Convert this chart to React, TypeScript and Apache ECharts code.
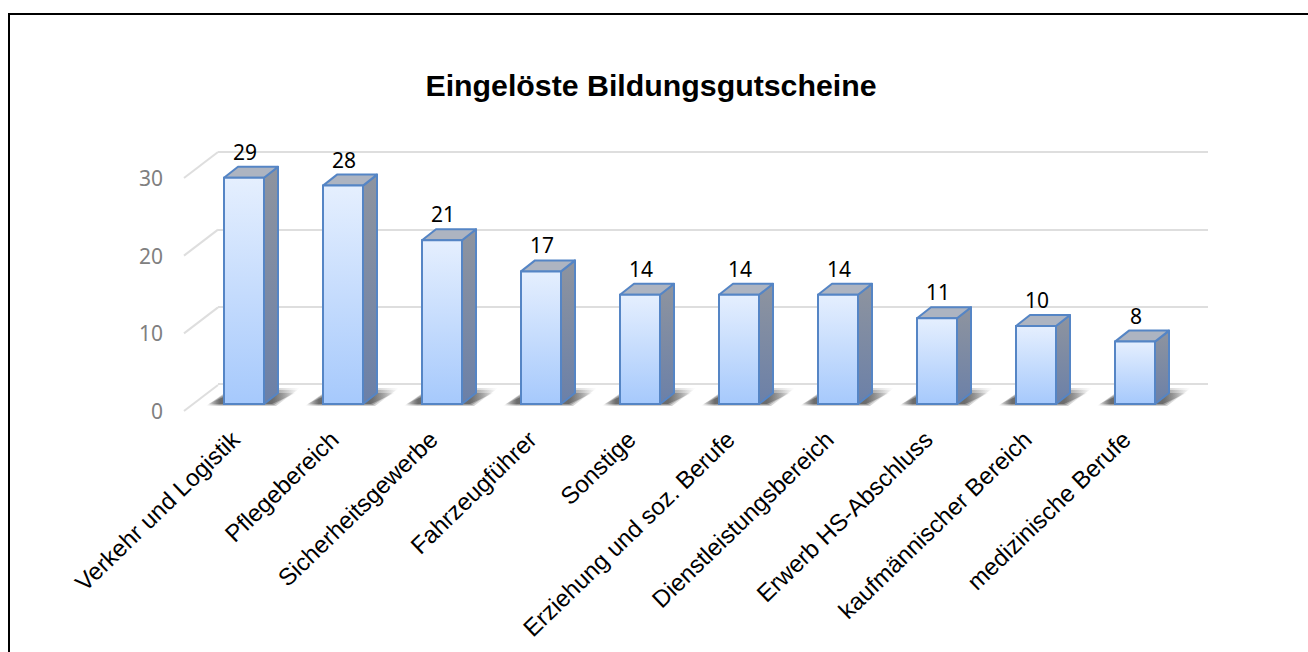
import React, { useEffect, useRef } from "react";
import * as echarts from "echarts";

const title = "Eingelöste Bildungsgutscheine";
const categories = [
  "Verkehr und Logistik",
  "Pflegebereich",
  "Sicherheitsgewerbe",
  "Fahrzeugführer",
  "Sonstige",
  "Erziehung und soz. Berufe",
  "Dienstleistungsbereich",
  "Erwerb HS-Abschluss",
  "kaufmännischer Bereich",
  "medizinische Berufe",
];
const values = [29, 28, 21, 17, 14, 14, 14, 11, 10, 8];
const ticks = [0, 10, 20, 30];

const DX = 14;
const DY = -11;

function shadowFill(a: number) {
  return new echarts.graphic.LinearGradient(0, 0, 1, 0, [
    { offset: 0, color: `rgba(60,60,60,0)` },
    { offset: 0.14, color: `rgba(60,60,60,${a})` },
    { offset: 0.72, color: `rgba(60,60,60,${a})` },
    { offset: 1, color: `rgba(60,60,60,0)` },
  ]);
}

function renderShadow(params: any, api: any) {
  const c = api.coord([api.value(0), 0]);
  const x0 = c[0] - 20;
  const x1 = c[0] + 20;
  const y = c[1];
  return {
    type: "group",
    children: [
      {
        type: "polygon",
        shape: { points: [[x0 - 18, y + 2], [x1 + 12, y + 2], [x1 + 36, y - 16], [x0 + 8, y - 16]] },
        style: { fill: shadowFill(0.25) },
      },
      {
        type: "polygon",
        shape: { points: [[x0 - 17, y + 1], [x1 + 10, y + 1], [x1 + 34, y - 14], [x0 + 8, y - 14]] },
        style: { fill: shadowFill(0.35) },
      },
      {
        type: "polygon",
        shape: { points: [[x0 - 16, y], [x1 + 8, y], [x1 + 32, y - 11], [x0 + 8, y - 11]] },
        style: { fill: shadowFill(0.5) },
      },
    ],
  };
}

function renderBar(params: any, api: any) {
  const base = api.coord([api.value(0), 0]);
  const top = api.coord([api.value(0), api.value(1)]);
  const x0 = base[0] - 20;
  const x1 = base[0] + 20;
  const yb = base[1];
  const yt = top[1];
  const stroke = "#5585c5";
  return {
    type: "group",
    children: [
      {
        type: "polygon",
        shape: { points: [[x1, yt], [x1 + DX, yt + DY], [x1 + DX, yb + DY], [x1, yb]] },
        style: {
          fill: new echarts.graphic.LinearGradient(0, 0, 0, 1, [
            { offset: 0, color: "#8e949f" },
            { offset: 1, color: "#6b80a8" },
          ]),
          stroke,
          lineWidth: 2,
          lineJoin: "round",
        },
      },
      {
        type: "polygon",
        shape: { points: [[x0, yt], [x0 + DX, yt + DY], [x1 + DX, yt + DY], [x1, yt]] },
        style: { fill: "#adb4c1", stroke, lineWidth: 2, lineJoin: "round" },
      },
      {
        type: "rect",
        shape: { x: x0, y: yt, width: 40, height: yb - yt },
        style: {
          fill: new echarts.graphic.LinearGradient(0, 0, 0, 1, [
            { offset: 0, color: "#e5effe" },
            { offset: 1, color: "#a6c9fc" },
          ]),
          stroke,
          lineWidth: 2,
        },
      },
      {
        type: "text",
        style: {
          x: base[0] + 1,
          y: yt - 26,
          text: String(api.value(1)),
          fill: "#000000",
          font: '21px "Noto Sans"',
          align: "center",
          verticalAlign: "middle",
        },
      },
    ],
  };
}

function renderSlant(params: any, api: any) {
  const p = api.coord([0, api.value(1)]);
  return {
    type: "line",
    shape: { x1: p[0], y1: p[1], x2: p[0] + 34, y2: p[1] - 26 },
    style: { stroke: "#dedede", lineWidth: 2 },
  };
}

export default function App() {
  const ref = useRef<HTMLDivElement>(null);
  useEffect(() => {
    const chart = echarts.init(ref.current!, null, { renderer: "svg" });
    chart.setOption({
      animation: false,
      backgroundColor: "#ffffff",
      title: {
        text: title,
        left: 646,
        top: 65,
        textAlign: "center",
        textStyle: { fontFamily: "Liberation Sans", fontSize: 30.3, fontWeight: "bold", color: "#000000" },
      },
      grid: [
        { left: 194.5, width: 990, top: 170, height: 234 },
        { left: 184, width: 34, top: 178, height: 233 },
        { left: 218, width: 990, top: 152, height: 232 },
      ],
      xAxis: [
        {
          gridIndex: 0,
          type: "category",
          data: categories,
          axisLine: { show: false },
          axisTick: { show: false },
          axisLabel: {
            interval: 0,
            rotate: 44,
            margin: 23,
            padding: [0, 12, 0, 0],
            fontFamily: "Liberation Sans",
            fontSize: 24,
            color: "#000000",
          },
        },
        { gridIndex: 1, type: "value", min: 0, max: 1, show: false },
        { gridIndex: 2, type: "value", min: 0, max: 1, show: false },
      ],
      yAxis: [
        { gridIndex: 0, type: "value", min: 0, max: 30, interval: 10, show: false },
        {
          gridIndex: 1,
          type: "value",
          min: 0,
          max: 30,
          interval: 10,
          axisLine: { show: false },
          axisTick: { show: false },
          splitLine: { show: false },
          axisLabel: { margin: 21, fontFamily: "Noto Sans", fontSize: 21, color: "#808080" },
        },
        {
          gridIndex: 2,
          type: "value",
          min: 0,
          max: 30,
          interval: 10,
          axisLine: { show: false },
          axisTick: { show: false },
          axisLabel: { show: false },
          splitLine: { show: true, lineStyle: { color: "#dedede", width: 2 } },
        },
      ],
      graphic: [
        {
          type: "polyline",
          shape: { points: [[9, 652], [9, 14], [1308, 14]] },
          style: { fill: "none", stroke: "#000000", lineWidth: 2 },
          z: 10,
        },
      ],
      series: [
        {
          type: "custom",
          name: "slant",
          xAxisIndex: 1,
          yAxisIndex: 1,
          renderItem: renderSlant,
          data: ticks.map((t) => [0, t]),
          z: 1,
          silent: true,
        },
        {
          type: "custom",
          name: "shadow",
          xAxisIndex: 0,
          yAxisIndex: 0,
          renderItem: renderShadow,
          data: values.map((v, i) => [i, v]),
          z: 2,
          silent: true,
        },
        {
          type: "custom",
          name: "Eingelöste Bildungsgutscheine",
          xAxisIndex: 0,
          yAxisIndex: 0,
          renderItem: renderBar,
          data: values.map((v, i) => [i, v]),
          z: 3,
        },
      ],
    });
    return () => chart.dispose();
  }, []);
  return <div ref={ref} style={{ position: "fixed", left: 0, top: 0, width: 1308, height: 652 }} />;
}
